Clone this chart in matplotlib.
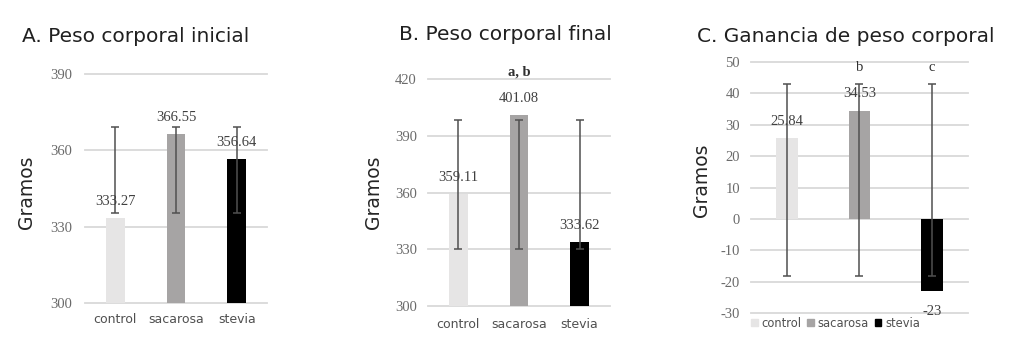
import matplotlib
matplotlib.use("Agg")
import matplotlib.pyplot as plt
from matplotlib.patches import Patch

plt.rcParams["axes.unicode_minus"] = False

# data
categories = ["control", "sacarosa", "stevia"]
colors = ["#e6e5e5", "#a6a4a4", "#000000"]

inicial = [333.27, 366.55, 356.64]
inicial_err_lo = [335.2, 335.2, 335.2]
inicial_err_hi = [369.2, 369.2, 369.2]

final = [359.11, 401.08, 333.62]
final_err_lo = [330.0, 330.0, 330.4]
final_err_hi = [398.3, 398.3, 398.3]
final_letters = ["", "a, b", ""]

ganancia = [25.84, 34.53, -23]
ganancia_labels = ["25.84", "34.53", "-23"]
ganancia_err_lo = [-18.3, -18.3, -18.3]
ganancia_err_hi = [43.1, 43.1, 43.1]
ganancia_letters = ["", "b", "c"]

grid_c = "#d9d9d9"
tick_c = "#6a6a6a"
cat_c = "#505050"
err_c = "#505050"
serif = "Liberation Serif"
sans = "DejaVu Sans"

fig = plt.figure(figsize=(10.11, 3.48), dpi=100)


def panel(rect, vals, labels, lo, hi, ylim, step, width, ypad, label_xy):
    ax = fig.add_axes(rect)
    x = list(range(len(vals)))
    ax.bar(x, vals, width=width, color=colors, zorder=2)
    # error bars go from lo to hi, not centred on the bar
    mid = [(a + b) / 2 for a, b in zip(lo, hi)]
    half = [(b - a) / 2 for a, b in zip(lo, hi)]
    ax.errorbar(x, mid, yerr=half, fmt="none", ecolor=err_c, elinewidth=1.1,
                capsize=3, capthick=1.1, zorder=3)
    for xi, v, t in zip(x, vals, labels):
        off = 12 if v >= 0 else -15
        ax.annotate(t, (xi, v), xytext=(0, off), textcoords="offset points",
                    ha="center", va="center", fontsize=10.5, family=serif,
                    color="#404040", zorder=4)
    ax.set_xlim(-0.5, len(vals) - 0.5)
    ax.set_ylim(*ylim)
    ax.set_yticks(list(range(ylim[0], ylim[1] + 1, step)))
    for s in ax.spines.values():
        s.set_visible(False)
    ax.yaxis.grid(True, color=grid_c, linewidth=1.3, zorder=0)
    for gl in ax.get_ygridlines():
        gl.set_clip_on(False)
    ax.set_axisbelow(True)
    ax.tick_params(axis="y", length=0, pad=ypad, labelsize=10.5, labelcolor=tick_c)
    for lab in ax.get_yticklabels():
        lab.set_family(serif)
    ax.set_ylabel("Gramos", fontsize=13.5, family=sans, color="#262626")
    ax.yaxis.set_label_coords(*label_xy)
    return ax


axA = panel([0.0841, 0.1293, 0.180, 0.658], inicial,
            ["%.2f" % v for v in inicial], inicial_err_lo, inicial_err_hi,
            (300, 390), 30, 0.31, 9, (-0.27, 0.485))
axA.set_xticks(range(3))
axA.set_xticklabels(categories)
axA.tick_params(axis="x", length=0, pad=7, labelsize=9, labelcolor=cat_c)

axB = panel([0.4233, 0.1207, 0.180, 0.652], final,
            ["%.2f" % v for v in final], final_err_lo, final_err_hi,
            (300, 420), 30, 0.31, 8, (-0.247, 0.50))
axB.set_xticks(range(3))
axB.set_xticklabels(categories)
axB.tick_params(axis="x", length=0, pad=9, labelsize=9, labelcolor=cat_c)
for i, t in enumerate(final_letters):
    if t:
        axB.text(i, 1.03, t, transform=axB.get_xaxis_transform(), ha="center",
                 va="center", fontsize=10.5, family=serif, fontweight="bold",
                 color="#303030")

axC = panel([0.7428, 0.1006, 0.2146, 0.721], ganancia, ganancia_labels,
            ganancia_err_lo, ganancia_err_hi, (-30, 50), 10, 0.30, 8,
            (-0.184, 0.53))
axC.set_xticks([])
for i, t in enumerate(ganancia_letters):
    if t:
        axC.text(i, 0.98, t, transform=axC.get_xaxis_transform(), ha="center",
                 va="center", fontsize=10.5, family=serif, color="#303030")
handles = [Patch(color=c, label=n) for c, n in zip(colors, categories)]
axC.legend(handles=handles, loc="center", bbox_to_anchor=(0.39, -0.04),
           ncol=3, frameon=False, fontsize=8.3, handlelength=0.55,
           handleheight=0.55, handletextpad=0.35, columnspacing=0.5,
           labelcolor=cat_c, borderpad=0)

fig.text(22 / 1011, 1 - 36 / 348, "A. Peso corporal inicial", fontsize=14.5,
         family=sans, color="#202020", va="center", ha="left")
fig.text(505 / 1011, 1 - 35 / 348, "B. Peso corporal final", fontsize=14.5,
         family=sans, color="#202020", va="center", ha="center")
fig.text(846 / 1011, 1 - 36 / 348, "C. Ganancia de peso corporal",
         fontsize=14.5, family=sans, color="#202020", va="center", ha="center")

fig.savefig("out.png", dpi=100, facecolor="white")
